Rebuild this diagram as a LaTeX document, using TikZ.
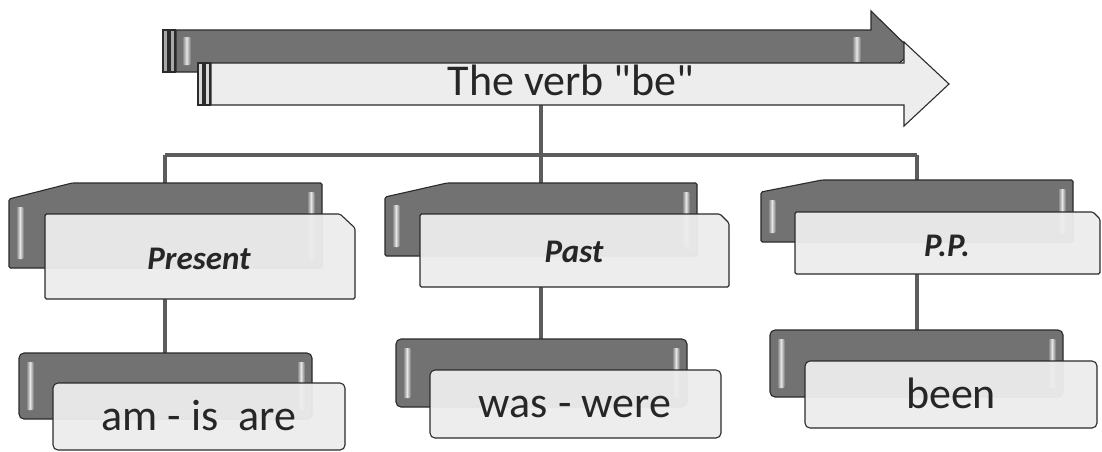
\documentclass[tikz,border=0pt]{standalone}
\usepackage{fontspec}
\setmainfont{Carlito}[Ligatures=TeXOff]
\usetikzlibrary{fit}

\definecolor{darkfill}{HTML}{727272}
\definecolor{stripefill}{HTML}{A9A9A9}
\definecolor{lightfill}{HTML}{EDEDED}
\definecolor{lightstripe}{HTML}{DADADA}
\definecolor{edge}{HTML}{2B2B2B}
\definecolor{connc}{HTML}{5C5C5C}
\definecolor{inkc}{HTML}{262626}

% dark plate with a cut top-left corner: node, cut width, cut height
\newcommand\cutplate[3]{%
  \path[darkplate] ([yshift=-#3pt]#1.north west) -- ([xshift=#2pt]#1.north west)
    -- (#1.north east) -- (#1.south east) -- (#1.south west) -- cycle;
  \shade[bevel, left color=darkfill, right color=darkfill, middle color=white!92!darkfill]
    ([xshift=7pt,yshift=-#3pt-8pt]#1.north west) rectangle ([xshift=15pt,yshift=9pt]#1.south west);
  \shade[bevel, left color=darkfill, right color=darkfill, middle color=white!92!darkfill]
    ([xshift=-15pt,yshift=-9pt]#1.north east) rectangle ([xshift=-7pt,yshift=9pt]#1.south east);
}
% light plate with a cut top-right corner: node, cut width, cut height
\newcommand\tabplate[3]{%
  \path[lightplate] (#1.north west) -- ([xshift=-#2pt]#1.north east)
    -- ([yshift=-#3pt]#1.north east) -- (#1.south east) -- (#1.south west) -- cycle;
}
% dark rounded plate with bevel highlights
\newcommand\roundplate[1]{%
  \path[darkplate, rounded corners=5pt] (#1.north west) rectangle (#1.south east);
  \shade[bevel, left color=darkfill, right color=darkfill, middle color=white!92!darkfill]
    ([xshift=7pt,yshift=-9pt]#1.north west) rectangle ([xshift=15pt,yshift=9pt]#1.south west);
  \shade[bevel, left color=darkfill, right color=darkfill, middle color=white!92!darkfill]
    ([xshift=-15pt,yshift=-9pt]#1.north east) rectangle ([xshift=-7pt,yshift=9pt]#1.south east);
}

\begin{document}
\begin{tikzpicture}[x=1pt,y=-1pt,
  holder/.style={inner sep=0pt, outer sep=0pt, draw=none},
  darkplate/.style={fill=darkfill, draw=edge, line width=1.1pt, rounded corners=1.5pt},
  lightplate/.style={fill=lightfill, fill opacity=0.95, draw=edge, draw opacity=1,
    line width=1.1pt, rounded corners=1.5pt},
  lightround/.style={lightplate, rounded corners=5pt},
  bevel/.style={rounded corners=2pt, opacity=0.9},
  conn/.style={draw=connc, line width=3.5pt},
  bigtext/.style={anchor=base, inner sep=0pt, text=inkc, font=\fontsize{44}{48}\selectfont},
  headtext/.style={anchor=base, inner sep=0pt, text=inkc,
    font=\fontsize{33}{36}\selectfont\bfseries\itshape}]

\useasboundingbox (0,0) rectangle (1102,451);
\fill[white] (0,0) rectangle (1102,451);

% geometry of every plate
\node[holder, fit={(176,30) (871,72)}] (darkbody) {};
\node[holder, fit={(211,63) (904,105)}] (lightbody) {};
\node[holder, fit={(9,183) (322,268)}] (presBack) {};
\node[holder, fit={(45,214) (355,299)}] (presFront) {};
\node[holder, fit={(385,183) (697,256)}] (pastBack) {};
\node[holder, fit={(420,214) (729,287)}] (pastFront) {};
\node[holder, fit={(761,180) (1073,242)}] (ppBack) {};
\node[holder, fit={(795,212) (1100,274)}] (ppFront) {};
\node[holder, fit={(19,353) (312,419)}] (amBack) {};
\node[holder, fit={(53,383) (345,450)}] (amFront) {};
\node[holder, fit={(396,339) (687,407)}] (wasBack) {};
\node[holder, fit={(430,370) (721,438)}] (wasFront) {};
\node[holder, fit={(770,330) (1063,397)}] (beenBack) {};
\node[holder, fit={(805,361) (1097,428)}] (beenFront) {};

% connector bus
\coordinate (busL) at (165,155);
\coordinate (busM) at (541,155);
\coordinate (busR) at (917,155);

\draw[conn] (lightbody.south -| busM) -- (busM);
\draw[conn] (busL) -- (busR);
\draw[conn] (busL) -- (busL |- presBack.north);
\draw[conn] (busM) -- (busM |- pastBack.north);
\draw[conn] (busR) -- (busR |- ppBack.north);
\draw[conn] (presFront.south -| busL) -- (busL |- amBack.north);
\draw[conn] (pastFront.south -| busM) -- (busM |- wasBack.north);
\draw[conn] (ppFront.south -| busR) -- (busR |- beenBack.north);

% back arrow
\path[darkplate, rounded corners=0pt] (darkbody.north west) -- (darkbody.north east)
  -- (871,11) -- (912,51) -- (871,91) -- (darkbody.south east) -- (darkbody.south west) -- cycle;
\path[darkplate, fill=stripefill, rounded corners=0pt] (163,30) rectangle (168,72);
\path[darkplate, fill=stripefill, rounded corners=0pt] (170,30) rectangle (175,72);
\shade[bevel, left color=darkfill, right color=darkfill, middle color=white!92!darkfill]
  (182,37) rectangle (191,65);
\shade[bevel, left color=darkfill, right color=darkfill, middle color=white!92!darkfill]
  (852,37) rectangle (861,62);

% front arrow
\path[lightplate, fill opacity=1, rounded corners=0pt] (lightbody.north west) -- (lightbody.north east)
  -- (904,42) -- (949,84) -- (904,126) -- (lightbody.south east) -- (lightbody.south west) -- cycle;
\path[lightplate, fill=lightstripe, fill opacity=1, rounded corners=0pt] (198,63) rectangle (203,105);
\path[lightplate, fill=lightstripe, fill opacity=1, rounded corners=0pt] (205,63) rectangle (210,105);
\node[bigtext] (title) at (571,95) {The verb "be"};

% second level
\cutplate{presBack}{63}{16}
\tabplate{presFront}{15}{14}
\node[headtext] (present) at (199,269) {Present};

\cutplate{pastBack}{62}{14}
\tabplate{pastFront}{9}{9}
\node[headtext] (past) at (574,262) {Past};

\cutplate{ppBack}{61}{12}
\tabplate{ppFront}{7}{7}
\node[headtext] (pp) at (947,256) {P.P.};

% third level
\roundplate{amBack}
\path[lightround] (amFront.north west) rectangle (amFront.south east);
\node[bigtext] (amis) at (199,430) {am - is\ \ are};

\roundplate{wasBack}
\path[lightround] (wasFront.north west) rectangle (wasFront.south east);
\node[bigtext] (waswere) at (575,417) {was - were};

\roundplate{beenBack}
\path[lightround] (beenFront.north west) rectangle (beenFront.south east);
\node[bigtext] (been) at (951,408) {been};

\end{tikzpicture}
\end{document}
